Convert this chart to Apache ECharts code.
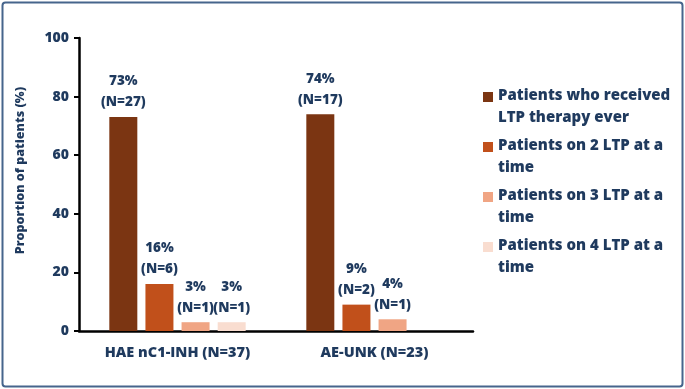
<!DOCTYPE html>
<html>
<head>
<meta charset="utf-8">
<script src="https://cdn.jsdelivr.net/npm/echarts@6/dist/echarts.min.js"></script>
<style>
  html, body { margin: 0; padding: 0; background: #fff; }
  #chart { width: 685px; height: 389px; }
</style>
</head>
<body>
<div id="chart"></div>
<script>
// data
const categories = ['HAE nC1-INH (N=37)', 'AE-UNK (N=23)']
const seriesNames = [
  'Patients who received LTP therapy ever',
  'Patients on 2 LTP at a time',
  'Patients on 3 LTP at a time',
  'Patients on 4 LTP at a time'
]
// legend text as wrapped in the original
const legendLabels = [
  'Patients who received\nLTP therapy ever',
  'Patients on 2 LTP at a\ntime',
  'Patients on 3 LTP at a\ntime',
  'Patients on 4 LTP at a\ntime'
]
const percentValues = [
  [73, 74],
  [16, 9],
  [3, 4],
  [3, null]
]
const countValues = [
  [27, 17],
  [6, 2],
  [1, 1],
  [1, null]
]
const yTicks = [0, 20, 40, 60, 80, 100]

const colors = ['#7b3512', '#c1501b', '#f0a584', '#f9ddd0']
const textColor = '#1f3a5e'
const fontFamily = '"Open Sans", sans-serif'
const heavy = 800

const chart = echarts.init(document.getElementById('chart'))

const series = seriesNames.map((name, i) => ({
  name: name,
  type: 'bar',
  barWidth: 28,
  barGap: '29%',
  itemStyle: { color: colors[i] },
  label: {
    show: true,
    position: 'top',
    distance: 4,
    color: textColor,
    fontFamily: fontFamily,
    fontWeight: heavy,
    fontSize: 13.5,
    lineHeight: 21,
    formatter: p => p.value + '%\n(N=' + countValues[i][p.dataIndex] + ')'
  },
  data: percentValues[i]
}))

chart.setOption({
  animation: false,
  color: colors,
  grid: { left: 79, right: 212, top: 38, bottom: 58 },
  legend: {
    orient: 'vertical',
    left: 478,
    top: 80,
    itemGap: 6,
    itemWidth: 10,
    itemHeight: 30,
    // square sits on the first text line
    icon: 'path://M0,0L10,0L10,10L0,10Z M0,30L0,30',
    data: seriesNames,
    formatter: name => legendLabels[seriesNames.indexOf(name)],
    textStyle: {
      color: textColor,
      fontFamily: fontFamily,
      fontWeight: heavy,
      fontSize: 15,
      lineHeight: 22
    }
  },
  xAxis: {
    type: 'category',
    data: categories,
    axisLine: { lineStyle: { color: '#000', width: 2.5 } },
    axisTick: { show: false },
    axisLabel: {
      margin: 14,
      color: textColor,
      fontFamily: fontFamily,
      fontWeight: heavy,
      fontSize: 14.5
    }
  },
  yAxis: {
    type: 'value',
    min: yTicks[0],
    max: yTicks[yTicks.length - 1],
    interval: yTicks[1] - yTicks[0],
    name: 'Proportion of patients (%)',
    nameLocation: 'middle',
    nameGap: 52,
    nameTextStyle: {
      color: textColor,
      fontFamily: fontFamily,
      fontWeight: heavy,
      fontSize: 12.5,
      padding: [0, 0, 0, 28]
    },
    splitLine: { show: false },
    axisLine: { show: true, lineStyle: { color: '#000', width: 2.5 } },
    axisTick: { show: true, length: 5, lineStyle: { color: '#000', width: 2 } },
    axisLabel: {
      margin: 10,
      color: textColor,
      fontFamily: fontFamily,
      fontWeight: heavy,
      fontSize: 14
    }
  },
  graphic: [
    {
      type: 'rect',  // outer frame
      shape: { x: 2.5, y: 2.5, width: 680, height: 384, r: 3 },
      style: { fill: 'none', stroke: '#46658c', lineWidth: 2 },
      silent: true,
      z: 10
    }
  ],
  series: series
})
</script>
</body>
</html>
